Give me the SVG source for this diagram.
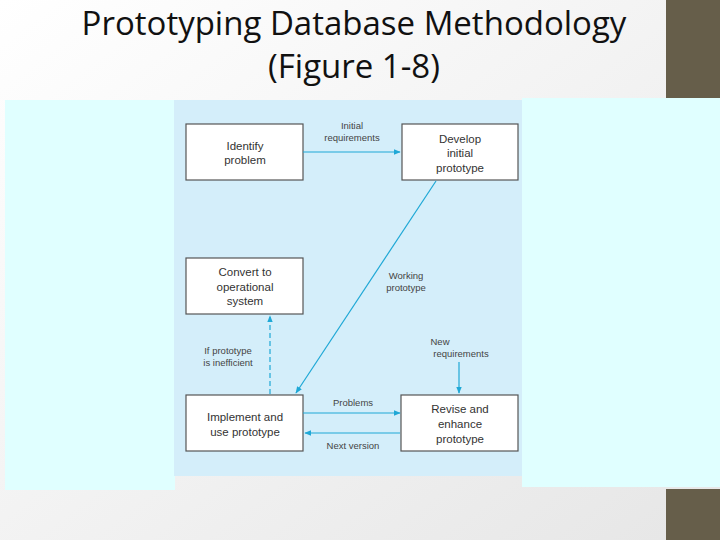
<svg xmlns="http://www.w3.org/2000/svg" width="720" height="540" viewBox="0 0 720 540">
<defs>
<linearGradient id="bg" x1="0" y1="0" x2="1" y2="1"><stop offset="0" stop-color="#ffffff"/><stop offset="1" stop-color="#e6e6e6"/></linearGradient>
<marker id="ah" viewBox="0 0 10 10" refX="9" refY="5" markerWidth="7" markerHeight="7" orient="auto" markerUnits="userSpaceOnUse"><path d="M0,1 L10,5 L0,9 Z" fill="#1fa8d6"/></marker>
</defs>
<style>
.box{fill:#fff;stroke:#555;stroke-width:1.2}
.t{font-family:"Liberation Sans",Arial,sans-serif;font-size:11.5px;fill:#333;text-anchor:middle}
.s{font-family:"Liberation Sans",Arial,sans-serif;font-size:9.5px;fill:#444;text-anchor:middle}
.c{stroke:#1fa8d6;stroke-width:1.2;fill:none;marker-end:url(#ah)}
</style>
<rect width="720" height="540" fill="url(#bg)"/>
<rect x="666" y="0" width="54" height="98" fill="#665e4a"/>
<rect x="666" y="489" width="54" height="51" fill="#665e4a"/>
<text x="354" y="35" font-family="'Open Sans','DejaVu Sans',sans-serif" font-size="33" text-anchor="middle" fill="#111">Prototyping Database Methodology</text>
<text x="354" y="78" font-family="'Open Sans','DejaVu Sans',sans-serif" font-size="33" text-anchor="middle" fill="#111">(Figure 1-8)</text>
<rect x="5" y="100" width="170" height="390" fill="#e0ffff"/>
<rect x="522" y="98" width="198" height="389" fill="#e0ffff"/>
<rect x="174" y="100" width="348" height="376" fill="#d4eefa"/>
<g id="identify"><rect class="box" x="186" y="124" width="117" height="56"/><text class="t" x="245" y="150">Identify</text><text class="t" x="245" y="164">problem</text></g>
<g id="develop"><rect class="box" x="402" y="124" width="116" height="56"/><text class="t" x="460" y="143">Develop</text><text class="t" x="460" y="157">initial</text><text class="t" x="460" y="172">prototype</text></g>
<g id="convert"><rect class="box" x="186" y="258" width="117" height="56"/><text class="t" x="245" y="276">Convert to</text><text class="t" x="245" y="291">operational</text><text class="t" x="245" y="305">system</text></g>
<g id="implement"><rect class="box" x="186" y="395" width="117" height="56"/><text class="t" x="245" y="421">Implement and</text><text class="t" x="245" y="436">use prototype</text></g>
<g id="revise"><rect class="box" x="401" y="395" width="117" height="56"/><text class="t" x="460" y="413">Revise and</text><text class="t" x="460" y="428">enhance</text><text class="t" x="460" y="443">prototype</text></g>
<g id="connectors">
<line class="c" x1="303" y1="152" x2="400" y2="152"/>
<line class="c" x1="436" y1="181" x2="296" y2="393"/>
<line class="c" x1="270" y1="394" x2="270" y2="316" stroke-dasharray="5,3"/>
<line class="c" x1="459" y1="362" x2="459" y2="393"/>
<line class="c" x1="303" y1="413" x2="400" y2="413"/>
<line class="c" x1="400" y1="433" x2="305" y2="433"/>
<text class="s" x="352" y="129">Initial</text><text class="s" x="352" y="141">requirements</text>
<text class="s" x="406" y="279">Working</text><text class="s" x="406" y="291">prototype</text>
<text class="s" x="228" y="354">If prototype</text><text class="s" x="228" y="366">is inefficient</text>
<text class="s" x="440" y="345">New</text><text class="s" x="461" y="357">requirements</text>
<text class="s" x="353" y="406">Problems</text>
<text class="s" x="353" y="449">Next version</text>
</g>
</svg>
